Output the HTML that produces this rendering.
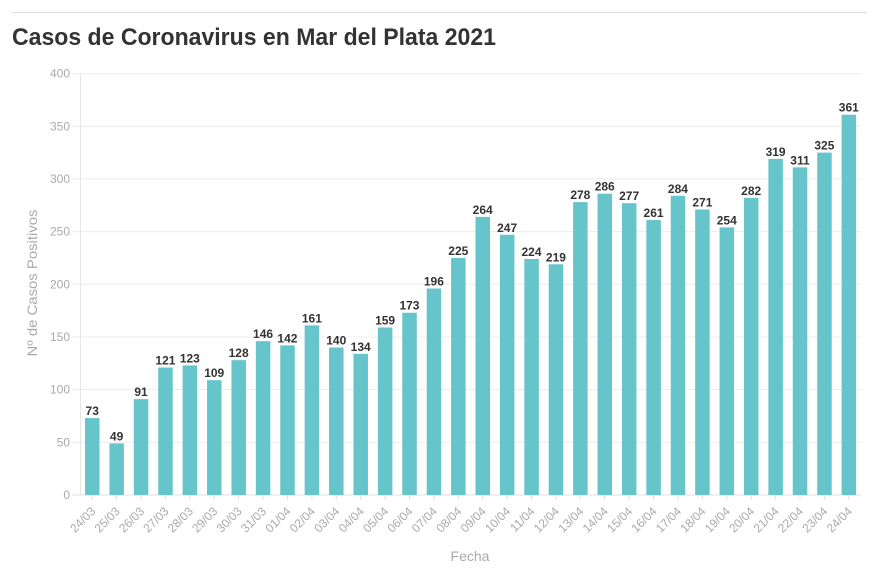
<!DOCTYPE html>
<html><head><meta charset="utf-8"><style>
html,body{margin:0;padding:0;background:#fff;}
svg{display:block;}
</style></head><body>
<svg width="879" height="575" viewBox="0 0 879 575" xmlns="http://www.w3.org/2000/svg" font-family="Liberation Sans, Arial, sans-serif">
<line x1="12" y1="12.5" x2="867" y2="12.5" stroke="#e0e0e0" stroke-width="1.2"/>
<text x="12" y="45" font-size="24" font-weight="bold" fill="#333" textLength="484" lengthAdjust="spacingAndGlyphs">Casos de Coronavirus en Mar del Plata 2021</text>
<g id="grid" stroke="#ececec" stroke-width="1"></g>
<g id="yl" font-size="12" fill="#aaa" text-anchor="end"></g>
<line x1="80.5" y1="73" x2="80.5" y2="495" stroke="#e6e6e6"/>
<g id="bars"></g>
<g id="vals" font-size="12" font-weight="bold" fill="#333" text-anchor="middle"></g>
<g id="xt" stroke="#e0e0e0"></g>
<g id="xl" font-size="12" fill="#aaa" text-anchor="end"></g>
<text transform="translate(37,283) rotate(-90)" font-size="14" fill="#aaa" text-anchor="middle" textLength="147" lengthAdjust="spacingAndGlyphs">Nº de Casos Positivos</text>
<text x="470" y="561" font-size="14" fill="#aaa" text-anchor="middle">Fecha</text>
</svg>
<script>
(function(){
var NS="http://www.w3.org/2000/svg";
var d=[73,49,91,121,123,109,128,146,142,161,140,134,159,173,196,225,264,247,224,219,278,286,277,261,284,271,254,282,319,311,325,361];
var lab=[];
for(var i=24;i<=31;i++)lab.push(i+"/03");
for(var i=1;i<=24;i++)lab.push((i<10?"0":"")+i+"/04");
function el(t,a,p,txt){var e=document.createElementNS(NS,t);for(var k in a)e.setAttribute(k,a[k]);if(txt!==undefined)e.textContent=txt;document.getElementById(p).appendChild(e);return e;}
function Y(v){return 495-v*421.4/400;}
for(var v=0;v<=400;v+=50){
 var y=Y(v);
 el("line",{x1:72,x2:861,y1:y.toFixed(1),y2:y.toFixed(1),stroke:v==0?"#e0e0e0":"#ececec"},"grid");
 el("text",{x:70,y:(y+4).toFixed(1)},"yl",String(v));
}
var band=(861-80)/32;
for(var i=0;i<32;i++){
 var x=80+i*band+5, c=80+i*band+band/2, y=Y(d[i]);
 el("rect",{x:x.toFixed(2),y:y.toFixed(2),width:14.5,height:(495-y).toFixed(2),fill:"#66c4cb"},"bars");
 el("text",{x:c.toFixed(2),y:(y-3).toFixed(1)},"vals",String(d[i]));
 el("line",{x1:c.toFixed(1),x2:c.toFixed(1),y1:495,y2:500},"xt");
 el("text",{transform:"translate("+(c+4).toFixed(1)+",512) rotate(-45)"},"xl",lab[i]);
}
})();
</script>
</body></html>
